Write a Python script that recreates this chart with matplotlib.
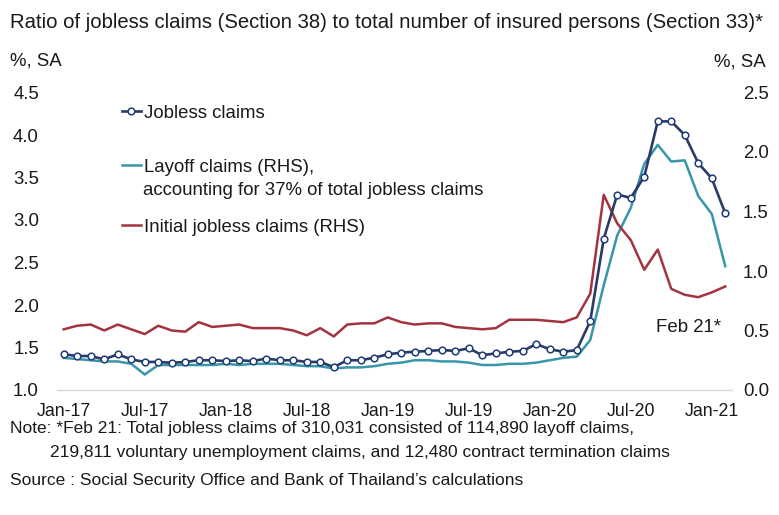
import matplotlib
matplotlib.use("Agg")
import matplotlib.pyplot as plt
from matplotlib.lines import Line2D
import numpy as np

plt.rcParams['font.family'] = ['Liberation Sans', 'DejaVu Sans']

# ---------------- data ----------------
months = ["Jan-17", "Feb-17", "Mar-17", "Apr-17", "May-17", "Jun-17", "Jul-17", "Aug-17", "Sep-17", "Oct-17",
          "Nov-17", "Dec-17", "Jan-18", "Feb-18", "Mar-18", "Apr-18", "May-18", "Jun-18", "Jul-18", "Aug-18",
          "Sep-18", "Oct-18", "Nov-18", "Dec-18", "Jan-19", "Feb-19", "Mar-19", "Apr-19", "May-19", "Jun-19",
          "Jul-19", "Aug-19", "Sep-19", "Oct-19", "Nov-19", "Dec-19", "Jan-20", "Feb-20", "Mar-20", "Apr-20",
          "May-20", "Jun-20", "Jul-20", "Aug-20", "Sep-20", "Oct-20", "Nov-20", "Dec-20", "Jan-21", "Feb-21"]

jobless = [1.42, 1.40, 1.40, 1.36, 1.42, 1.36, 1.33, 1.33, 1.32, 1.33,
           1.35, 1.35, 1.34, 1.35, 1.34, 1.37, 1.35, 1.35, 1.33, 1.33,
           1.27, 1.35, 1.35, 1.38, 1.42, 1.44, 1.45, 1.46, 1.47, 1.46,
           1.49, 1.41, 1.43, 1.45, 1.46, 1.54, 1.48, 1.45, 1.47, 1.81,
           2.78, 3.30, 3.26, 3.51, 4.16, 4.16, 4.00, 3.67, 3.49, 3.08]

layoff = [0.27, 0.26, 0.25, 0.24, 0.24, 0.22, 0.13, 0.21, 0.21, 0.21,
          0.21, 0.21, 0.22, 0.21, 0.22, 0.22, 0.22, 0.21, 0.20, 0.20,
          0.18, 0.19, 0.19, 0.20, 0.22, 0.23, 0.25, 0.25, 0.24, 0.24,
          0.23, 0.21, 0.21, 0.22, 0.22, 0.23, 0.25, 0.27, 0.28, 0.42,
          0.88, 1.30, 1.53, 1.90, 2.06, 1.92, 1.93, 1.63, 1.48, 1.04]

initial = [0.51, 0.54, 0.55, 0.50, 0.55, 0.51, 0.47, 0.54, 0.50, 0.49,
           0.57, 0.53, 0.54, 0.55, 0.52, 0.52, 0.52, 0.50, 0.46, 0.52,
           0.45, 0.55, 0.56, 0.56, 0.61, 0.57, 0.55, 0.56, 0.56, 0.53,
           0.52, 0.51, 0.52, 0.59, 0.59, 0.59, 0.58, 0.57, 0.61, 0.81,
           1.64, 1.40, 1.26, 1.01, 1.18, 0.85, 0.80, 0.78, 0.82, 0.87]

tick_labels = ["Jan-17", "Jul-17", "Jan-18", "Jul-18", "Jan-19", "Jul-19", "Jan-20", "Jul-20", "Jan-21"]
left_ticks = [1.0, 1.5, 2.0, 2.5, 3.0, 3.5, 4.0, 4.5]
right_ticks = [0.0, 0.5, 1.0, 1.5, 2.0, 2.5]

title = "Ratio of jobless claims (Section 38) to total number of insured persons (Section 33)*"
note1 = "Note: *Feb 21: Total jobless claims of 310,031 consisted of 114,890 layoff claims,"
note2 = "219,811 voluntary unemployment claims, and 12,480 contract termination claims"
source = "Source : Social Security Office and Bank of Thailand\u2019s calculations"

# ---------------- style ----------------
NAVY = "#2b3a66"
TEAL = "#3797a9"
RED = "#a3333f"
TXT = "#1a1a1a"
W, H = 779, 515
FS = 13.4
FSX = 12.8
FSN = 12.5

fig = plt.figure(figsize=(W / 100, H / 100), dpi=100)
ax = fig.add_axes([57 / W, (H - 390) / H, 675 / W, (390 - 92.5) / H])
ax2 = ax.twinx()

x = np.arange(len(months))
pos = {m: i for i, m in enumerate(months)}

ax2.plot(x, layoff, color=TEAL, lw=1.8, solid_joinstyle='round', zorder=2)
ax2.plot(x, initial, color=RED, lw=1.8, solid_joinstyle='round', zorder=3)
ax.plot(x, jobless, color=NAVY, lw=1.9, marker='o', ms=4.8, mfc='white', mec="#1f3c78",
        mew=1.1, solid_joinstyle='round', zorder=4)

ax.set_zorder(ax2.get_zorder() + 1)
ax.patch.set_visible(False)

ax.set_xlim(-0.5, len(months) - 0.5)
ax.set_ylim(1.0, 4.5)
ax2.set_ylim(0.0, 2.5)
ax.set_yticks(left_ticks)
ax.set_yticklabels([f"{v:.1f}" for v in left_ticks])
ax2.set_yticks(right_ticks)
ax2.set_yticklabels([f"{v:.1f}" for v in right_ticks])
ax.set_xticks([pos[m] for m in tick_labels])
ax.set_xticklabels(tick_labels)

for a in (ax, ax2):
    for s in a.spines.values():
        s.set_visible(False)
    a.tick_params(length=0, labelsize=FS, colors=TXT)
ax.tick_params(axis='x', labelsize=FSX, pad=9)
ax.spines['bottom'].set_visible(True)
ax.spines['bottom'].set_color("#d9d9d9")
ax.spines['bottom'].set_linewidth(1.0)
ax.tick_params(axis='y', pad=13)
ax2.tick_params(axis='y', pad=8)

# ---------------- legend ----------------
def fx(px):
    return px / W

def fy(py):
    return 1 - py / H

def one_legend(handle, label, px, py):
    lg = fig.legend([handle], [label], loc='center left', bbox_to_anchor=(fx(px), fy(py)),
                    frameon=False, fontsize=FS, handlelength=1.0, handletextpad=0.2,
                    borderpad=0, borderaxespad=0)
    for t in lg.get_texts():
        t.set_color(TXT)
    return lg

one_legend(Line2D([], [], color=NAVY, lw=1.9, marker='o', ms=4.8, mfc='white', mec="#1f3c78", mew=1.1),
           "Jobless claims", 122, 113)
one_legend(Line2D([], [], color=TEAL, lw=1.8), "Layoff claims (RHS),", 122, 167)
fig.text(fx(143), fy(190), "accounting for 37% of total jobless claims", fontsize=FS, color=TXT,
         ha='left', va='center')
one_legend(Line2D([], [], color=RED, lw=1.8), "Initial jobless claims (RHS)", 122, 227)

# ---------------- texts ----------------
t_title = fig.text(fx(10), fy(22), title, fontsize=13.5, color=TXT, ha='left', va='center')
fig.text(fx(10), fy(61), "%, SA", fontsize=FS, color=TXT, ha='left', va='center')
fig.text(fx(766), fy(62), "%, SA", fontsize=FS, color=TXT, ha='right', va='center')
fig.text(fx(688), fy(327), "Feb 21*", fontsize=FS, color=TXT, ha='center', va='center')
fig.text(fx(10), fy(428), note1, fontsize=FSN, color=TXT, ha='left', va='center')
fig.text(fx(50), fy(452), note2, fontsize=FSN, color=TXT, ha='left', va='center')
fig.text(fx(10), fy(481), source, fontsize=FSN, color=TXT, ha='left', va='center')

# fit title width to the reference
fig.canvas.draw()
r = fig.canvas.get_renderer()
bb = t_title.get_window_extent(r)
t_title.set_fontsize(t_title.get_fontsize() * 752 / bb.width)

fig.savefig("out.png", dpi=100)
